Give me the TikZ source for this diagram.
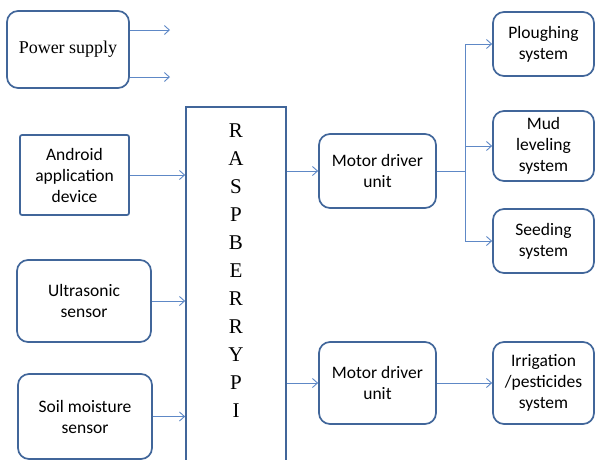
\documentclass[tikz,border=0pt]{standalone}
\usepackage{fontspec}
\setmainfont{Liberation Serif}
\newfontfamily\calibri{Carlito}
\newfontfamily\timesfont{Liberation Serif}
\usepackage{xcolor}
\usetikzlibrary{arrows.meta}
\definecolor{boxblue}{HTML}{41669A}
\definecolor{linkblue}{HTML}{5E88C6}

\begin{document}
\begin{tikzpicture}[x=1pt, y=-1pt,
  block/.style={draw=boxblue, line width=1.7pt, rounded corners=11pt, align=center,
    font=\calibri\fontsize{17.5}{21}\selectfont, inner sep=0pt},
  link/.style={draw=linkblue, line width=0.9pt},
  feed/.style={link, -{Straight Barb[length=5pt, width=9pt, line width=0.9pt]}}]

\useasboundingbox (0,0) rectangle (595,459);
\clip (0,0) rectangle (595,459);

% Eingaenge
\node[block, font=\timesfont\fontsize{18}{21}\selectfont, minimum width=122pt, minimum height=77pt] (power) at (68,49.5) {Power supply};
\node[block, rounded corners=2pt, minimum width=109pt, minimum height=80pt] (android) at (74.5,175) {Android\\application\\device};
\node[block, minimum width=134pt, minimum height=82pt] (ultra) at (84,301) {Ultrasonic\\sensor};
\node[block, minimum width=134pt, minimum height=85pt] (soil) at (85,416.5) {Soil moisture\\sensor};

% Raspberry Pi
\node[draw=boxblue, line width=1.7pt, minimum width=100pt, minimum height=362pt] (rpi) at (236,288) {};
\node[align=center, font=\timesfont\fontsize{21}{28}\selectfont] (rpitext) at (236,270.5) {R\\A\\S\\P\\B\\E\\R\\R\\Y\\P\\I};

% Motortreiber
\node[block, minimum width=117pt, minimum height=74pt] (mdu1) at (377.5,171) {Motor driver\\unit};
\node[block, minimum width=117pt, minimum height=82pt] (mdu2) at (377.5,383) {Motor driver\\unit};

% Ausgaenge
\node[block, minimum width=101pt, minimum height=64pt] (plough) at (543.5,44) {Ploughing\\system};
\node[block, minimum width=101pt, minimum height=70pt] (mud) at (543.5,146) {Mud\\leveling\\system};
\node[block, minimum width=101pt, minimum height=64pt] (seed) at (543.5,241) {Seeding\\system};
\node[block, minimum width=101pt, minimum height=82pt] (irri) at (543.5,383) {Irrigation\\/pesticides\\system};

% Verbindungen
\coordinate (p1) at (170,30);
\coordinate (p2) at (170,77);
\draw[feed] (power.east |- p1) -- (p1);
\draw[feed] (power.east |- p2) -- (p2);
\draw[feed] (android.east) -- (android.east -| rpi.west);
\draw[feed] (ultra.east) -- (ultra.east -| rpi.west);
\draw[feed] (soil.east) -- (soil.east -| rpi.west);
\draw[feed] (rpi.east |- mdu1.west) -- (mdu1.west);
\draw[feed] (rpi.east |- mdu2.west) -- (mdu2.west);

\coordinate (split) at (465,171);
\draw[link] (mdu1.east) -- (split);
\draw[feed] (split) |- (plough.west);
\draw[feed] (split) |- (mud.west);
\draw[feed] (split) |- (seed.west);
\draw[feed] (mdu2.east) -- (irri.west);

\end{tikzpicture}
\end{document}
